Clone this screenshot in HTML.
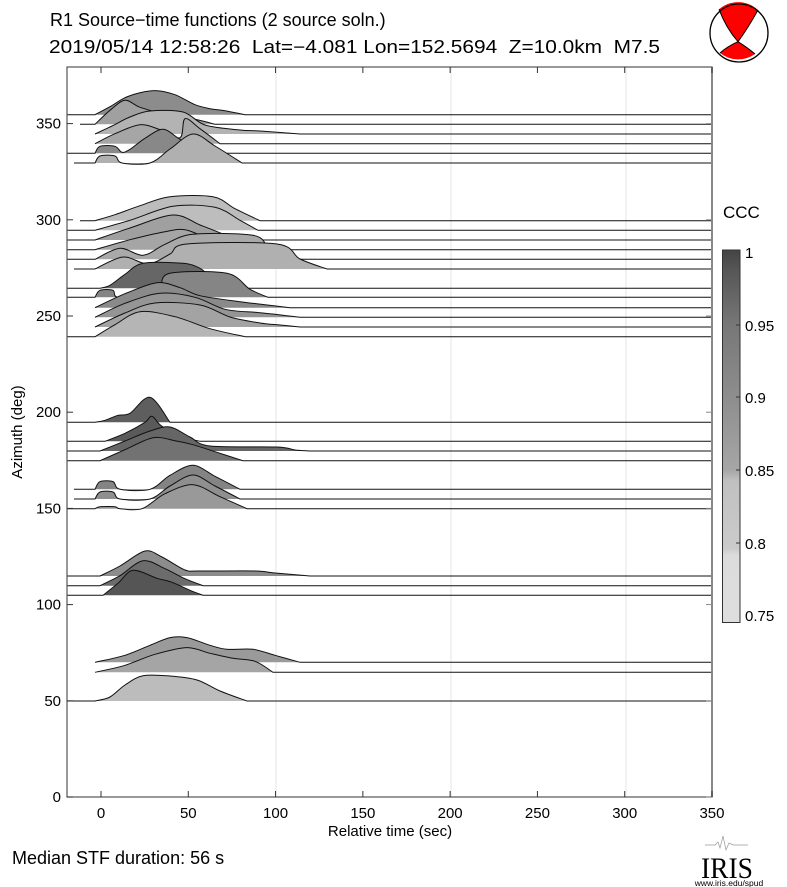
<!DOCTYPE html>
<html><head><meta charset="utf-8"><style>
html,body{margin:0;padding:0;background:#fff}
svg{display:block;font-family:"Liberation Sans",sans-serif}
</style></head><body>
<svg id="s" width="787" height="887" viewBox="0 0 787 887" xmlns="http://www.w3.org/2000/svg">
<rect width="787" height="887" fill="#fff"/>
<text x="50" y="26" font-size="18">R1 Source−time functions (2 source soln.)</text>
<text x="49" y="53" font-size="18" textLength="611" lengthAdjust="spacingAndGlyphs" xml:space="preserve">2019/05/14 12:58:26  Lat=−4.081 Lon=152.5694  Z=10.0km  M7.5</text>
<!-- beachball -->
<circle cx="739" cy="33" r="29" fill="#fff"/>
<path d="M719,9.3 A29,29 0 0 1 758,10 Q748,28 738,41.7 Q726,28 719,9.3Z" fill="#f00"/>
<path d="M738,41.7 Q748,48 755,54 A29,29 0 0 1 720,53 Q728,46 738,41.7Z" fill="#f00"/>
<path d="M719,9.3 Q726,28 738,41.7 Q748,48 755,54 M758,10 Q748,28 738,41.7 Q728,46 720,53" fill="none" stroke="#000" stroke-width="1"/>
<circle cx="739" cy="33" r="29" fill="none" stroke="#000" stroke-width="1.3"/>
<!-- grid -->
<g stroke="#e6e6e6" stroke-width="1">
<line x1="276" y1="67" x2="276" y2="797"/><line x1="451" y1="67" x2="451" y2="797"/><line x1="626" y1="67" x2="626" y2="797"/>
</g>
<g id="traces"></g>
<!-- axes -->
<rect x="67" y="67" width="645" height="730" fill="none" stroke="#555" stroke-width="1.2"/>
<line x1="712" y1="67" x2="712" y2="797" stroke="#888" stroke-width="2"/>
<g id="ticks" stroke="#333" stroke-width="1"></g>
<g font-size="15" text-anchor="end" id="ylab"></g>
<g font-size="15" text-anchor="middle" id="xlab"></g>
<text x="390" y="836" font-size="15" text-anchor="middle">Relative time (sec)</text>
<text transform="translate(22,432) rotate(-90)" font-size="15" text-anchor="middle">Azimuth (deg)</text>
<!-- colorbar -->
<defs><linearGradient id="cb" x1="0" y1="0" x2="0" y2="1">
<stop offset="0" stop-color="#444"/><stop offset="0.05" stop-color="#555"/>
<stop offset="0.2" stop-color="#777"/><stop offset="0.4" stop-color="#8e8e8e"/>
<stop offset="0.59" stop-color="#a6a6a6"/><stop offset="0.62" stop-color="#c0c0c0"/>
<stop offset="0.8" stop-color="#cbcbcb"/><stop offset="0.82" stop-color="#dcdcdc"/>
<stop offset="1" stop-color="#dedede"/></linearGradient></defs>
<text x="723" y="218" font-size="17">CCC</text>
<rect x="722.5" y="250" width="17.5" height="372.5" fill="url(#cb)" stroke="#333" stroke-width="1"/>
<g font-size="15">
<text x="745" y="258">1</text><text x="745" y="331">0.95</text><text x="745" y="403">0.9</text>
<text x="745" y="476">0.85</text><text x="745" y="549">0.8</text><text x="745" y="621">0.75</text>
</g>
<g stroke="#333"><line x1="736" y1="325" x2="740" y2="325"/><line x1="736" y1="397" x2="740" y2="397"/><line x1="736" y1="470" x2="740" y2="470"/><line x1="736" y1="543" x2="740" y2="543"/></g>
<text x="12" y="864" font-size="18">Median STF duration: 56 s</text>
<path d="M705,845 L715,845 L718,842 L720,848 L723,836 L726,850 L729,843 L733,845 L748,845" fill="none" stroke="#999" stroke-width="0.7"/>
<text x="727" y="878" font-size="30" font-family="Liberation Serif,serif" text-anchor="middle" textLength="52" lengthAdjust="spacingAndGlyphs">IRIS</text>
<text x="729" y="886" font-size="8.5" text-anchor="middle">www.iris.edu/spud</text>
</svg>
<script>
const T=[
{y:114.7,x0:67,c:"#8c8c8c",p:[[95,0],[110,8],[125,17],[140,22],[157,24],[175,20],[195,10],[210,6],[225,4],[245,0]]},
{y:124.3,x0:80,c:"#a0a0a0",p:[[95,0],[110,14],[125,24],[140,17],[165,10],[195,5],[215,0]]},
{y:134,x0:95,c:"#b3b3b3",p:[[95,0],[112,8],[130,17],[150,23],[183,22],[205,9],[240,4],[260,3],[300,0]]},
{y:143.7,x0:95,c:"#a6a6a6",p:[[95,0],[115,10],[140,19],[160,14],[180,6],[185,25],[200,15],[220,0]]},
{y:153.3,x0:67,c:"#888",p:[[95,0],[100,7],[115,7],[122,1],[130,4],[145,15],[163,24],[180,14],[200,3],[215,0]]},
{y:163,x0:74,c:"#b0b0b0",p:[[95,0],[100,7],[115,7],[122,0],[150,0],[170,14],[193,29],[215,17],[242,0]]},
{y:220.7,x0:80,c:"#bcbcbc",p:[[95,0],[115,6],[140,15],[170,24],[213,24],[235,12],[260,0]]},
{y:230.3,x0:67,c:"#bdbdbd",p:[[95,0],[130,10],[173,24],[215,23],[240,10],[258,0]]},
{y:240,x0:67,c:"#a0a0a0",p:[[95,0],[130,12],[173,25],[200,15],[225,5],[232,0]]},
{y:249.7,x0:67,c:"#a5a5a5",p:[[95,0],[130,10],[165,18],[185,20],[205,12],[225,0]]},
{y:259.3,x0:67,c:"#a9a9a9",p:[[95,0],[120,11],[143,4],[165,15],[193,25],[253,24],[268,12],[280,0]]},
{y:269,x0:74,c:"#b0b0b0",p:[[95,0],[123,12],[148,5],[170,15],[187,25],[277,25],[300,10],[327,0]]},
{y:288.3,x0:67,c:"#666",p:[[100,0],[110,3],[125,14],[143,25],[183,25],[200,20],[210,12],[230,0]]},
{y:297.3,x0:67,c:"#858585",p:[[95,0],[100,7],[113,7],[118,0],[150,0],[160,10],[170,24],[227,24],[250,8],[268,0]]},
{y:307.7,x0:95,c:"#8a8a8a",p:[[95,0],[125,14],[157,25],[180,20],[200,12],[240,6],[265,3],[290,0]]},
{y:317.3,x0:95,c:"#959595",p:[[95,0],[125,14],[160,24],[195,20],[225,8],[255,5],[275,3],[300,0]]},
{y:327,x0:95,c:"#a3a3a3",p:[[95,0],[125,14],[155,24],[200,22],[230,10],[260,4],[280,2],[300,0]]},
{y:336.7,x0:67,c:"#b5b5b5",p:[[95,0],[115,12],[140,25],[175,20],[210,8],[245,0]]},
{y:422.3,x0:67,c:"#5e5e5e",p:[[95,0],[105,2],[118,7],[130,9],[150,25],[170,0]]},
{y:441.3,x0:67,c:"#5a5a5a",p:[[105,0],[125,8],[145,19],[152,25],[162,15],[185,4],[200,0]]},
{y:451,x0:67,c:"#666",p:[[100,0],[125,10],[150,20],[170,24],[190,14],[210,5],[277,4],[295,1],[310,0]]},
{y:460.7,x0:67,c:"#727272",p:[[100,0],[125,11],[153,23],[175,20],[193,16],[215,9],[243,0]]},
{y:489.3,x0:74,c:"#848484",p:[[95,0],[100,7.7],[113,7.7],[120,0],[150,0],[170,14],[193,24],[215,13],[240,0]]},
{y:499,x0:74,c:"#8f8f8f",p:[[95,0],[100,7],[113,7],[120,0],[150,0],[170,13],[193,24],[215,13],[240,0]]},
{y:508.7,x0:67,c:"#999",p:[[95,0],[100,2],[115,2],[120,0],[142,0],[165,15],[193,24],[220,12],[247,0]]},
{y:576,x0:67,c:"#8c8c8c",p:[[100,0],[120,10],[145,25],[162,19],[185,6],[200,5],[255,5],[275,3],[310,0]]},
{y:585.7,x0:67,c:"#6c6c6c",p:[[100,0],[120,10],[143,25],[165,17],[185,7],[203,0]]},
{y:595.3,x0:67,c:"#555",p:[[103,0],[118,12],[133,25],[157,17],[172,13],[190,5],[203,0]]},
{y:662.3,x0:95,c:"#9a9a9a",p:[[95,0],[125,7],[150,17],[170,24.7],[187,24.7],[210,17],[227,13],[253,13],[275,7],[300,0]]},
{y:672.3,x0:95,c:"#a5a5a5",p:[[95,0],[125,7],[155,18],[187,24.7],[210,19],[233,14],[255,11],[273,0]]},
{y:701,x0:67,c:"#bcbcbc",p:[[95,0],[110,4],[125,16],[143,25.3],[170,25],[197,21],[220,10],[247,0]]}
];
function cr(pts){
  let d="";
  for(let i=0;i<pts.length-1;i++){
    const p0=pts[Math.max(i-1,0)],p1=pts[i],p2=pts[i+1],p3=pts[Math.min(i+2,pts.length-1)];
    const t=0.16;
    const c1=[p1[0]+(p2[0]-p0[0])*t,p1[1]+(p2[1]-p0[1])*t];
    const c2=[p2[0]-(p3[0]-p1[0])*t,p2[1]-(p3[1]-p1[1])*t];
    d+=` C${c1[0].toFixed(1)},${c1[1].toFixed(1)} ${c2[0].toFixed(1)},${c2[1].toFixed(1)} ${p2[0]},${p2[1]}`;
  }
  return d;
}
let h="";
for(const t of T){
  const pts=t.p.map(q=>[q[0],+(t.y-q[1]).toFixed(1)]);
  const curve=cr(pts);
  const first=pts[0],last=pts[pts.length-1];
  h+=`<path d="M${first[0]},${t.y} L${first[0]},${first[1]}${curve} L${last[0]},${t.y}Z" fill="${t.c}"/>`;
  h+=`<path d="M${t.x0},${t.y} L${first[0]},${first[1]}${curve} L712,${t.y}" fill="none" stroke="#111" stroke-width="1"/>`;
}
document.getElementById("traces").innerHTML=h;
let tk="",yl="",xl="";
for(let v=0;v<=350;v+=50){
  const y=797-v*1.924;
  tk+=`<line x1="67" y1="${y}" x2="73" y2="${y}"/><line x1="706" y1="${y}" x2="712" y2="${y}" stroke="#888"/>`;
  yl+=`<text x="61" y="${y+5}">${v}</text>`;
  const x=101+v*1.7457;
  tk+=`<line x1="${x}" y1="797" x2="${x}" y2="791"/><line x1="${x}" y1="67" x2="${x}" y2="73"/>`;
  xl+=`<text x="${x}" y="818">${v}</text>`;
}
document.getElementById("ticks").innerHTML=tk;
document.getElementById("ylab").innerHTML=yl;
document.getElementById("xlab").innerHTML=xl;
</script>
</body></html>
